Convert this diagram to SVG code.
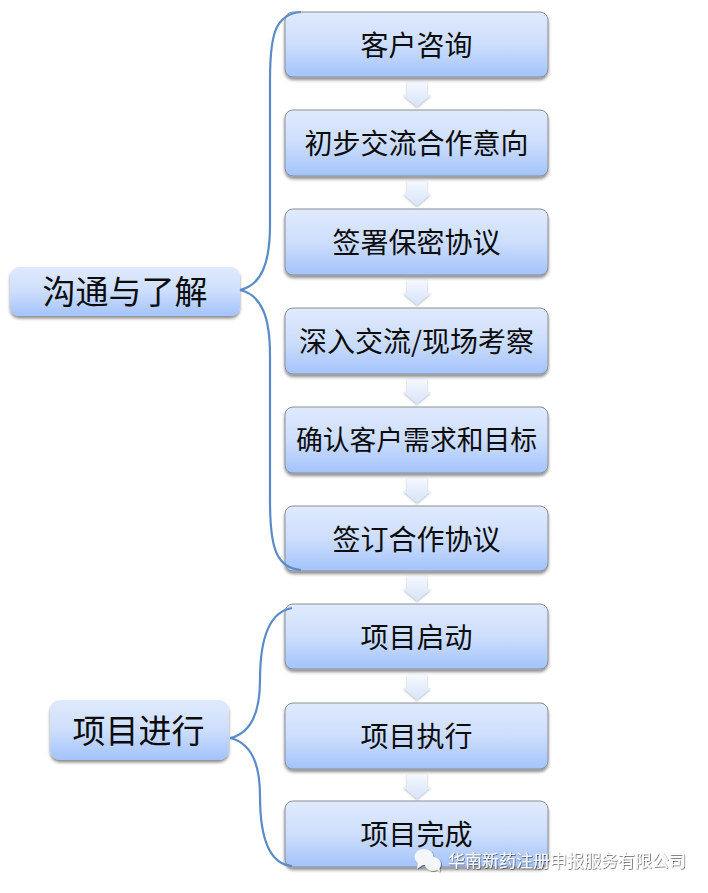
<svg xmlns="http://www.w3.org/2000/svg" width="708" height="893" viewBox="0 0 708 893">
<defs>
<linearGradient id="g" x1="0" y1="0" x2="0" y2="1"><stop offset="0" stop-color="#e0eafd"/><stop offset="0.5" stop-color="#cddefc"/><stop offset="1" stop-color="#a3c3fb"/></linearGradient>
<linearGradient id="a" x1="0" y1="0" x2="0" y2="1"><stop offset="0" stop-color="#f6f9ff"/><stop offset="1" stop-color="#d6e3f9"/></linearGradient>
<filter id="s" x="-10%" y="-20%" width="120%" height="150%"><feDropShadow dx="0" dy="2.500" stdDeviation="1.600" flood-color="#000" flood-opacity="0.45"/></filter>
<filter id="sa" x="-30%" y="-20%" width="160%" height="150%"><feDropShadow dx="0" dy="1" stdDeviation="1.200" flood-color="#5f6a7c" flood-opacity="0.5"/></filter>
<filter id="ws" x="-10%" y="-20%" width="120%" height="140%"><feDropShadow dx="0.600" dy="0.600" stdDeviation="0.500" flood-color="#000" flood-opacity="0.8"/></filter>
<path id="arr" d="M-10 0H10V13H14L0 25L-14 13H-10Z"/>
</defs>
<style>
.box{fill:url(#g);stroke:#8a8f96;stroke-width:1;filter:url(#s)}
.sec{fill:url(#g);filter:url(#s)}
.t{font-family:"Noto Sans CJK SC","Liberation Sans",sans-serif;fill:#0c0c0c;text-anchor:middle}
.m{font-size:28px}
.n{font-size:26.800px}
.l{font-size:33px}
.arrow{fill:url(#a);filter:url(#sa)}
.c{fill:none;stroke:#5a8bc9;stroke-width:2.200}
</style>
<rect width="708" height="893" fill="#fff"/>
<g id="arrows">
<use href="#arr" class="arrow" x="417" y="82"/>
<use href="#arr" class="arrow" x="417" y="181"/>
<use href="#arr" class="arrow" x="417" y="280"/>
<use href="#arr" class="arrow" x="417" y="379"/>
<use href="#arr" class="arrow" x="417" y="478"/>
<use href="#arr" class="arrow" x="417" y="576"/>
<use href="#arr" class="arrow" x="417" y="675"/>
<use href="#arr" class="arrow" x="417" y="774"/>
</g>
<g id="n1"><rect class="box" x="285" y="12" width="263" height="65" rx="8"/><text class="t m" x="416.500" y="56">客户咨询</text></g>
<g id="n2"><rect class="box" x="285" y="110" width="263" height="66" rx="8"/><text class="t m" x="416.500" y="154">初步交流合作意向</text></g>
<g id="n3"><rect class="box" x="285" y="209" width="263" height="66" rx="8"/><text class="t m" x="416.500" y="253">签署保密协议</text></g>
<g id="n4"><rect class="box" x="285" y="308" width="263" height="66" rx="8"/><text class="t m" x="416.500" y="352">深入交流/现场考察</text></g>
<g id="n5"><rect class="box" x="285" y="407" width="263" height="66" rx="8"/><text class="t n" x="416.500" y="450">确认客户需求和目标</text></g>
<g id="n6"><rect class="box" x="285" y="506" width="263" height="65" rx="8"/><text class="t m" x="416.500" y="550">签订合作协议</text></g>
<g id="n7"><rect class="box" x="285" y="604" width="263" height="65" rx="8"/><text class="t m" x="416.500" y="648">项目启动</text></g>
<g id="n8"><rect class="box" x="285" y="703" width="263" height="66" rx="8"/><text class="t m" x="416.500" y="747">项目执行</text></g>
<g id="n9"><rect class="box" x="285" y="801" width="263" height="66" rx="8"/><text class="t m" x="416.500" y="845">项目完成</text></g>
<g id="s1"><rect class="sec" x="10" y="267" width="230" height="49" rx="9"/><text class="t l" x="125" y="304">沟通与了解</text></g>
<g id="s2"><rect class="sec" x="50" y="700" width="179" height="60" rx="10"/><text class="t l" x="138.500" y="743">项目进行</text></g>
<g id="connectors">
<path class="c" d="M240 290C262 285 270 262 270 225V80C270 35 275 14 301 12"/>
<path class="c" d="M240 290C262 295 270 318 270 355V500C270 545 275 568 301 570"/>
<path class="c" d="M230 738C252 733 260 710 260 680C260 640 268 612 292 608"/>
<path class="c" d="M230 738C252 743 260 766 260 796C260 836 268 864 292 866"/>
</g>
<g id="watermark">
<g fill="#f4f6fa" filter="url(#ws)"><ellipse cx="424" cy="857" rx="9.500" ry="8"/><path d="M418 862L417 869L424 864Z"/><ellipse cx="433" cy="864" rx="8" ry="7"/><path d="M436 869L440 872L439 866Z"/></g>
<text x="448" y="867" font-family="'Noto Sans CJK SC','Liberation Sans',sans-serif" font-size="17" fill="#fff" filter="url(#ws)">华南新药注册申报服务有限公司</text>
</g>
</svg>
